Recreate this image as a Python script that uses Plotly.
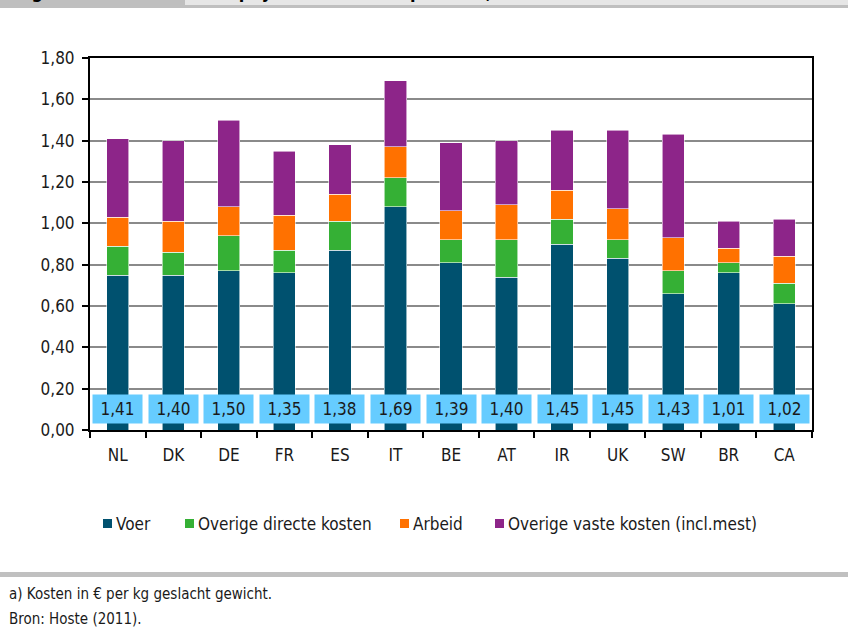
import plotly.graph_objects as go

# Cost price of pig meat per country (euro per kg slaughtered weight)
countries = ["NL", "DK", "DE", "FR", "ES", "IT", "BE", "AT", "IR", "UK", "SW", "BR", "CA"]
voer = [0.75, 0.75, 0.77, 0.76, 0.87, 1.08, 0.81, 0.74, 0.90, 0.83, 0.66, 0.76, 0.61]
overige_directe = [0.14, 0.11, 0.17, 0.11, 0.14, 0.14, 0.11, 0.18, 0.12, 0.09, 0.11, 0.05, 0.10]
arbeid = [0.14, 0.15, 0.14, 0.17, 0.13, 0.15, 0.14, 0.17, 0.14, 0.15, 0.16, 0.07, 0.13]
overige_vaste = [0.38, 0.39, 0.42, 0.31, 0.24, 0.32, 0.33, 0.31, 0.29, 0.38, 0.50, 0.13, 0.18]

series = [
    ("Voer", voer, "#00516F"),
    ("Overige directe kosten", overige_directe, "#35B035"),
    ("Arbeid", arbeid, "#FF7100"),
    ("Overige vaste kosten (incl.mest)", overige_vaste, "#8D2589"),
]

FONT = "DejaVu Sans Condensed, Liberation Sans Narrow, Arial Narrow, sans-serif"
TEXT = "#1a1a1a"
W, H = 848, 629
ML, MR, MT, MB = 90, 36, 58, 199
PW, PH = W - ML - MR, H - MT - MB


def px_x(x):
    return (x - ML) / PW


def px_y(y):
    return (H - MB - y) / PH


fig = go.Figure()
for name, vals, color in series:
    fig.add_trace(go.Bar(
        x=countries, y=vals, name=name,
        marker=dict(color=color, line=dict(color="rgba(255,255,255,0.7)", width=0.8)),
        showlegend=False,
    ))

totals = [round(a + b + c + d, 2) for a, b, c, d in zip(voer, overige_directe, arbeid, overige_vaste)]

annotations = []
for c, t in zip(countries, totals):
    annotations.append(dict(
        x=c, y=0.10, xref="x", yref="y", showarrow=False,
        text=f"{t:.2f}".replace(".", ","),
        font=dict(family=FONT, size=17, color=TEXT),
        bgcolor="#66CCFF", width=45, height=24, borderpad=2,
        align="center", valign="middle",
    ))

shapes = []
# legend: small squares with labels
legend_items = [(103, "Voer"), (185, "Overige directe kosten"), (400, "Arbeid"), (495, "Overige vaste kosten (incl.mest)")]
for (lx, label), (_, _, color) in zip(legend_items, series):
    shapes.append(dict(type="rect", xref="paper", yref="paper",
                       x0=px_x(lx), x1=px_x(lx + 9), y0=px_y(528), y1=px_y(519),
                       fillcolor=color, line=dict(width=0)))
    annotations.append(dict(x=px_x(lx + 11), y=px_y(523.5), xref="paper", yref="paper",
                            xanchor="left", yanchor="middle", showarrow=False, text=label,
                            font=dict(family=FONT, size=17, color=TEXT)))

# header band
shapes.append(dict(type="rect", xref="paper", yref="paper", x0=px_x(0), x1=px_x(W),
                   y0=px_y(8), y1=px_y(-2), fillcolor="#BFBFBF", line=dict(width=0)))
shapes.append(dict(type="rect", xref="paper", yref="paper", x0=px_x(185), x1=px_x(W),
                   y0=px_y(5), y1=px_y(-2), fillcolor="#E6E6E6", line=dict(width=0)))
annotations.append(dict(x=px_x(13), y=px_y(4), xref="paper", yref="paper", xanchor="left",
                        yanchor="bottom", showarrow=False, text="<b>Figuur 4.3</b>",
                        font=dict(family=FONT, size=18, color="#000")))
annotations.append(dict(x=px_x(196), y=px_y(4), xref="paper", yref="paper", xanchor="left",
                        yanchor="bottom", showarrow=False,
                        text="<b>Kostprijs varkensvlees per land, 2010</b>",
                        font=dict(family=FONT, size=18, color="#000")))

# footer band and notes
shapes.append(dict(type="rect", xref="paper", yref="paper", x0=px_x(0), x1=px_x(W),
                   y0=px_y(577), y1=px_y(572), fillcolor="#C0C0C0", line=dict(width=0)))
annotations.append(dict(x=px_x(7), y=px_y(594), xref="paper", yref="paper", xanchor="left",
                        yanchor="middle", showarrow=False,
                        text="a) Kosten in € per kg geslacht gewicht.",
                        font=dict(family=FONT, size=15, color=TEXT)))
annotations.append(dict(x=px_x(7), y=px_y(619), xref="paper", yref="paper", xanchor="left",
                        yanchor="middle", showarrow=False,
                        text="Bron: Hoste (2011).",
                        font=dict(family=FONT, size=15, color=TEXT)))

fig.update_layout(
    width=W, height=H,
    margin=dict(l=ML, r=MR, t=MT, b=MB),
    barmode="stack", bargap=0.6,
    paper_bgcolor="white", plot_bgcolor="white",
    separators=",.",
    font=dict(family=FONT, size=17, color=TEXT),
    annotations=annotations, shapes=shapes,
)
fig.update_xaxes(
    type="category", showline=True, linecolor="black", linewidth=2, mirror=True,
    ticks="outside", tickson="boundaries", ticklen=6, tickwidth=2, tickcolor="black",
    ticklabelstandoff=9,
    tickfont=dict(family=FONT, size=17, color=TEXT), showgrid=False,
)
fig.update_yaxes(
    range=[0, 1.8], dtick=0.2, tickformat=".2f",
    showline=True, linecolor="black", linewidth=2, mirror=True,
    ticks="outside", ticklen=6, tickwidth=2, tickcolor="black",
    ticklabelstandoff=4,
    showgrid=True, gridcolor="#8A8A8A", gridwidth=1.5,
    tickfont=dict(family=FONT, size=17, color=TEXT), zeroline=False,
)

fig.write_html("out.html")
